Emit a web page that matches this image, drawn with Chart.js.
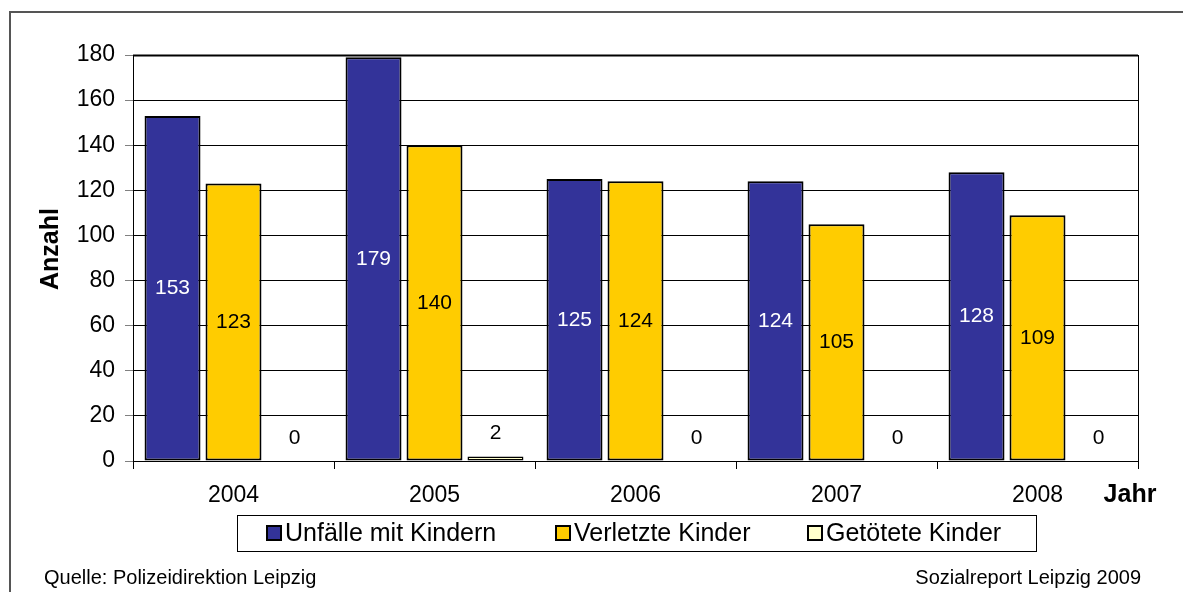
<!DOCTYPE html>
<html>
<head>
<meta charset="utf-8">
<script src="https://cdn.jsdelivr.net/npm/chart.js@4.4.0/dist/chart.umd.min.js"></script>
<style>
  html, body { margin: 0; padding: 0; background: #fff; }
  #wrap { width: 1183px; height: 592px; position: relative; }
</style>
</head>
<body>
<div id="wrap"><canvas id="unfallChart" width="1183" height="592"></canvas></div>
<script>
const years = ["2004", "2005", "2006", "2007", "2008"];
const unfaelle = [153, 179, 125, 124, 128];
const verletzte = [123, 140, 124, 105, 109];
const getoetete = [0, 2, 0, 0, 0];

const FONT = "'Liberation Sans', Arial, sans-serif";

// labels inside the bar (middle), small values above the bar
const valueLabels = {
    id: 'valueLabels',
    afterDatasetsDraw(chart) {
        const ctx = chart.ctx;
        ctx.save();
        ctx.font = '21px ' + FONT;
        ctx.textAlign = 'center';
        ctx.textBaseline = 'middle';
        chart.data.datasets.forEach((ds, i) => {
            chart.getDatasetMeta(i).data.forEach((bar, j) => {
                const v = ds.data[j];
                const h = bar.base - bar.y;
                if (h > 40) {
                    ctx.fillStyle = ds.labelColor;
                    ctx.fillText(String(v), bar.x, (bar.y + bar.base) / 2);
                } else {
                    ctx.fillStyle = '#000';
                    ctx.fillText(String(v), bar.x, bar.y - 23);
                }
            });
        });
        ctx.restore();
    }
};

// frame, legend box, axis names and footer
const decorations = {
    id: 'decorations',
    afterDraw(chart) {
        const ctx = chart.ctx;
        const a = chart.chartArea;
        ctx.save();
        // outer frame
        ctx.strokeStyle = '#555';
        ctx.lineWidth = 2;
        ctx.beginPath();
        ctx.moveTo(10, 592);
        ctx.lineTo(10, 12);
        ctx.lineTo(1183, 12);
        ctx.stroke();
        // plot border
        ctx.strokeStyle = '#000';
        ctx.lineWidth = 1;
        ctx.strokeRect(a.left + 0.5, a.top + 0.5, a.right - a.left, a.bottom - a.top);
        ctx.lineWidth = 2;
        ctx.beginPath();
        ctx.moveTo(a.left, a.top + 0.5);
        ctx.lineTo(a.right, a.top + 0.5);
        ctx.stroke();

        // axis names
        ctx.fillStyle = '#000';
        ctx.font = 'bold 25px ' + FONT;
        ctx.textAlign = 'center';
        ctx.textBaseline = 'middle';
        ctx.fillText('Jahr', 1130, 495);
        ctx.save();
        ctx.translate(51, 249);
        ctx.rotate(-Math.PI / 2);
        ctx.fillText('Anzahl', 0, 0);
        ctx.restore();

        // legend box
        const bw = 799, bh = 36;
        const bx = Math.round((a.left + a.right) / 2 - bw / 2) + 1, by = 515;
        ctx.lineWidth = 1;
        ctx.strokeStyle = '#000';
        ctx.strokeRect(bx + 0.5, by + 0.5, bw, bh);
        const offs = [30, 319, 571];
        ctx.font = '25px ' + FONT;
        ctx.textAlign = 'left';
        chart.data.datasets.forEach((ds, i) => {
            const sx = bx + offs[i], sy = by + bh / 2 - 7;
            ctx.fillStyle = ds.backgroundColor;
            ctx.fillRect(sx, sy, 14, 14);
            ctx.lineWidth = 2;
            ctx.strokeRect(sx, sy, 14, 14);
            ctx.fillStyle = '#000';
            ctx.fillText(ds.label, sx + 18, by + bh / 2 + 1);
        });

        // footer
        ctx.font = '20px ' + FONT;
        ctx.textAlign = 'left';
        ctx.fillText('Quelle: Polizeidirektion Leipzig', 44, 578);
        ctx.textAlign = 'right';
        ctx.fillText('Sozialreport Leipzig 2009', 1141, 578);
        ctx.restore();
    }
};

const ctx = document.getElementById('unfallChart').getContext('2d');

const barChart = new Chart(ctx, {
    type: 'bar',
    data: {
        labels: years,
        datasets: [
            {
                label: 'Unfälle mit Kindern',
                data: unfaelle,
                backgroundColor: '#333399',
                borderWidth: 2,
                labelColor: '#fff'
            },
            {
                label: 'Verletzte Kinder',
                data: verletzte,
                backgroundColor: '#FFCC00',
                borderWidth: 2,
                labelColor: '#000'
            },
            {
                label: 'Getötete Kinder',
                data: getoetete,
                backgroundColor: '#FFFFCC',
                borderWidth: c => (c.raw === 0 ? 0 : 1.5),
                labelColor: '#000'
            }
        ]
    },
    options: {
        responsive: false,
        animation: false,
        layout: {
            padding: { left: 30, right: 45, top: 55, bottom: 86 }
        },
        datasets: {
            bar: {
                borderColor: '#000',
                borderSkipped: false,
                categoryPercentage: 0.91,
                barPercentage: 0.918
            }
        },
        plugins: {
            legend: { display: false },
            tooltip: { enabled: false }
        },
        scales: {
            x: {
                afterFit: s => { s.height = 45; },
                grid: {
                    offset: true,
                    drawOnChartArea: false,
                    tickLength: 8,
                    tickColor: '#000'
                },
                border: { color: '#000', width: 1 },
                ticks: {
                    color: '#000',
                    padding: 13,
                    font: { family: FONT, size: 23 }
                }
            },
            y: {
                min: 0,
                max: 180,
                afterFit: s => { s.width = 103; },
                ticks: {
                    stepSize: 20,
                    color: '#000',
                    padding: 10,
                    font: { family: FONT, size: 23 }
                },
                grid: {
                    color: '#000',
                    tickLength: 8,
                    tickColor: '#808080'
                },
                border: { color: '#000', width: 1 }
            }
        }
    },
    plugins: [valueLabels, decorations]
});
</script>
</body>
</html>
